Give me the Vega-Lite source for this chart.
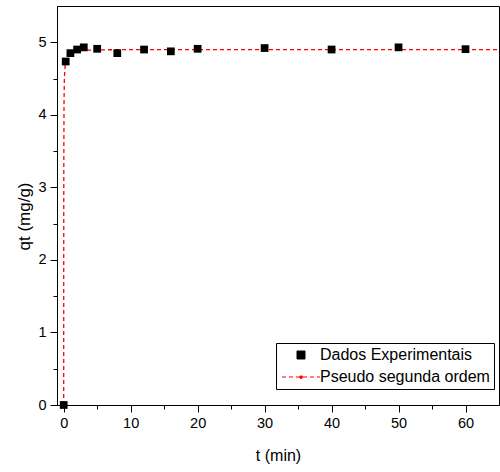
{
  "$schema": "https://vega.github.io/schema/vega-lite/v6.json",
  "autosize": {"type": "none"},
  "padding": {"left": 57, "top": 6, "right": 1, "bottom": 67},
  "width": 442,
  "height": 399,
  "background": "white",
  "config": {
    "font": "Liberation Sans",
    "view": {"stroke": "black", "strokeWidth": 1},
    "axis": {
      "grid": false,
      "domainColor": "black",
      "domainWidth": 1,
      "tickColor": "black",
      "tickWidth": 1,
      "labelColor": "black",
      "titleColor": "black",
      "labelFont": "Liberation Sans",
      "titleFont": "Liberation Sans",
      "labelFontSize": 14.5,
      "titleFontWeight": "normal"
    }
  },
  "data": {
    "values": [
      {"t": 0, "q": 0, "series": "Dados Experimentais"},
      {"t": 0.3, "q": 4.735, "series": "Dados Experimentais"},
      {"t": 1, "q": 4.85, "series": "Dados Experimentais"},
      {"t": 2, "q": 4.9, "series": "Dados Experimentais"},
      {"t": 3, "q": 4.93, "series": "Dados Experimentais"},
      {"t": 5, "q": 4.91, "series": "Dados Experimentais"},
      {"t": 8, "q": 4.85, "series": "Dados Experimentais"},
      {"t": 12, "q": 4.9, "series": "Dados Experimentais"},
      {"t": 16, "q": 4.875, "series": "Dados Experimentais"},
      {"t": 20, "q": 4.91, "series": "Dados Experimentais"},
      {"t": 30, "q": 4.92, "series": "Dados Experimentais"},
      {"t": 40, "q": 4.9, "series": "Dados Experimentais"},
      {"t": 50, "q": 4.93, "series": "Dados Experimentais"},
      {"t": 60, "q": 4.905, "series": "Dados Experimentais"},
      {"t": 0, "q": 0, "series": "Pseudo segunda ordem"},
      {"t": 0.005, "q": 1.7, "series": "Pseudo segunda ordem"},
      {"t": 0.01, "q": 2.6, "series": "Pseudo segunda ordem"},
      {"t": 0.02, "q": 3.4, "series": "Pseudo segunda ordem"},
      {"t": 0.05, "q": 4.2, "series": "Pseudo segunda ordem"},
      {"t": 0.1, "q": 4.5, "series": "Pseudo segunda ordem"},
      {"t": 0.25, "q": 4.73, "series": "Pseudo segunda ordem"},
      {"t": 0.5, "q": 4.81, "series": "Pseudo segunda ordem"},
      {"t": 0.75, "q": 4.84, "series": "Pseudo segunda ordem"},
      {"t": 1, "q": 4.86, "series": "Pseudo segunda ordem"},
      {"t": 1.5, "q": 4.87, "series": "Pseudo segunda ordem"},
      {"t": 2, "q": 4.88, "series": "Pseudo segunda ordem"},
      {"t": 3, "q": 4.89, "series": "Pseudo segunda ordem"},
      {"t": 5, "q": 4.895, "series": "Pseudo segunda ordem"},
      {"t": 10, "q": 4.9, "series": "Pseudo segunda ordem"},
      {"t": 20, "q": 4.9, "series": "Pseudo segunda ordem"},
      {"t": 40, "q": 4.9, "series": "Pseudo segunda ordem"},
      {"t": 65, "q": 4.9, "series": "Pseudo segunda ordem"}
    ]
  },
  "encoding": {
    "x": {
      "field": "t", "type": "quantitative",
      "scale": {"domain": [-1, 65], "nice": false, "zero": false},
      "axis": {
        "title": "t (min)",
        "titleFontSize": 16,
        "titlePadding": 18,
        "values": [0, 5, 10, 15, 20, 25, 30, 35, 40, 45, 50, 55, 60],
        "format": "d",
        "labelExpr": "datum.value % 10 === 0 ? datum.label : ''",
        "tickSize": {"condition": {"test": "datum.value % 10 === 0", "value": 7}, "value": 4},
        "labelPadding": 4
      }
    },
    "y": {
      "field": "q", "type": "quantitative",
      "scale": {"domain": [0, 5.5], "nice": false},
      "axis": {
        "title": "qt (mg/g)",
        "titleFontSize": 17,
        "titlePadding": 4,
        "titleY": 210,
        "values": [0, 0.5, 1, 1.5, 2, 2.5, 3, 3.5, 4, 4.5, 5],
        "labelExpr": "datum.value % 1 === 0 ? format(datum.value, 'd') : ''",
        "tickSize": {"condition": {"test": "datum.value % 1 === 0", "value": 7}, "value": 4},
        "labelPadding": 4
      }
    },
    "color": {
      "field": "series", "type": "nominal",
      "scale": {"domain": ["Dados Experimentais", "Pseudo segunda ordem"], "range": ["black", "red"]},
      "legend": {
        "title": null,
        "orient": "none",
        "legendX": 219,
        "legendY": 337,
        "strokeColor": "black",
        "fillColor": "white",
        "padding": 4,
        "rowPadding": 6,
        "labelFontSize": 16,
        "labelLimit": 400,
        "labelColor": "black",
        "labelFont": "Liberation Sans",
        "symbolSize": 100,
        "symbolOffset": 13,
        "labelOffset": 11,
        "encode": {
          "symbols": {
            "update": {
              "shape": {"signal": "datum.value === 'Dados Experimentais' ? 'square' : 'M-3.8,0L3.8,0M0.3,0A0.3,0.3,0,1,1,-0.3,0A0.3,0.3,0,1,1,0.3,0'"},
              "size": {"signal": "datum.value === 'Dados Experimentais' ? 64 : 100"},
              "fill": {"signal": "datum.value === 'Dados Experimentais' ? 'black' : 'red'"},
              "stroke": {"signal": "datum.value === 'Dados Experimentais' ? 'black' : 'red'"},
              "strokeDash": {"signal": "datum.value === 'Dados Experimentais' ? [] : [4, 3]"},
              "strokeWidth": {"value": 1},
              "opacity": {"value": 1},
              "fillOpacity": {"value": 1},
              "strokeOpacity": {"value": 1}
            }
          }
        }
      }
    }
  },
  "layer": [
    {
      "transform": [{"filter": "datum.series === 'Pseudo segunda ordem'"}],
      "mark": {"type": "line", "strokeDash": [4, 3], "strokeWidth": 1.3, "interpolate": "linear"}
    },
    {
      "transform": [{"filter": "datum.series === 'Dados Experimentais'"}],
      "mark": {"type": "point", "shape": "square", "filled": true, "size": 60, "opacity": 1}
    }
  ]
}
